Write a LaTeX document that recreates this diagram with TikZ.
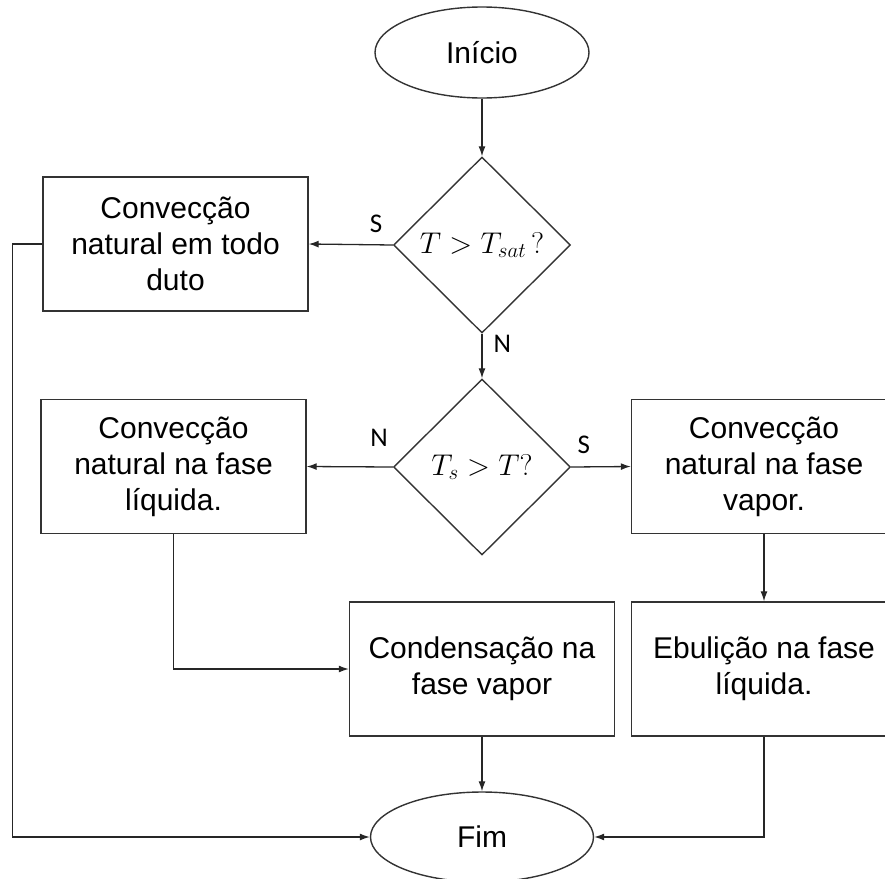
\RequirePackage{fix-cm}
\documentclass[tikz,border=0pt]{standalone}
\usepackage{fontspec}
\setmainfont{Liberation Sans}
\newfontfamily\calibri{Carlito}
\usetikzlibrary{shapes.geometric,arrows.meta}

\begin{document}
\begin{tikzpicture}[x=1pt, y=-1pt,
        box/.style={draw=black!80, line width=1.4pt, minimum width=265pt, minimum height=134pt, inner sep=0pt, align=center, font=\fontsize{30}{36}\selectfont},
        term/.style={ellipse, draw=black!80, line width=1.4pt, inner sep=0pt, font=\fontsize{30}{36}\selectfont},
        decisao/.style={diamond, draw=black!80, line width=1.4pt, minimum width=177pt, minimum height=176pt, inner sep=0pt, font=\fontsize{30}{36}\selectfont},
        seta/.style={draw=black!85, line width=1.3pt, -{Latex[length=10pt,width=7pt]}},
        resp/.style={font=\calibri\fontsize{27}{30}\selectfont, inner sep=0pt}]
        \clip (0,0) rectangle (885,878);

        \node[term, minimum width=214pt, minimum height=91pt] (inicio) at (482,52.5) {Início};
        \node[decisao] (teste1) at (482,245) {$T > T_{sat}\,?$};
        \node[box] (duto) at (175.5,244) {Convecção\\natural em todo\\duto};
        \node[decisao] (teste2) at (482,467) {$T_s > T?$};
        \node[box] (liquida) at (173.5,466.5) {Convecção\\natural na fase\\líquida.};
        \node[box] (vapor) at (764,466.5) {Convecção\\natural na fase\\vapor.};
        \node[box] (condensa) at (482,669) {Condensação na\\fase vapor};
        \node[box] (ebulicao) at (764,669) {Ebulição na fase\\líquida.};
        \node[term, minimum width=223pt, minimum height=90pt] (fim) at (482,837) {Fim};

        \draw[seta] (inicio) -- (teste1);
        \draw[seta] (teste1.west) -- node[resp, above=11pt, pos=0.2] {S} (duto.east);
        \draw[seta] (teste1.south) -- node[resp, right=11pt, pos=0.22] {N} (teste2.north);
        \draw[seta] (teste2.west) -- node[resp, above=20pt, pos=0.16] {N} (liquida.east);
        \draw[seta] (teste2.east) -- node[resp, above=13pt, pos=0.21] {S} (vapor.west);
        \draw[seta] (vapor) -- (ebulicao);
        \draw[seta] (liquida.south) |- (condensa.west);
        \draw[seta] (duto.west) -- ++(-30,0) |- (fim.west);
        \draw[seta] (condensa) -- (fim);
        \draw[seta] (ebulicao.south) |- (fim.east);
    \end{tikzpicture}
\end{document}
